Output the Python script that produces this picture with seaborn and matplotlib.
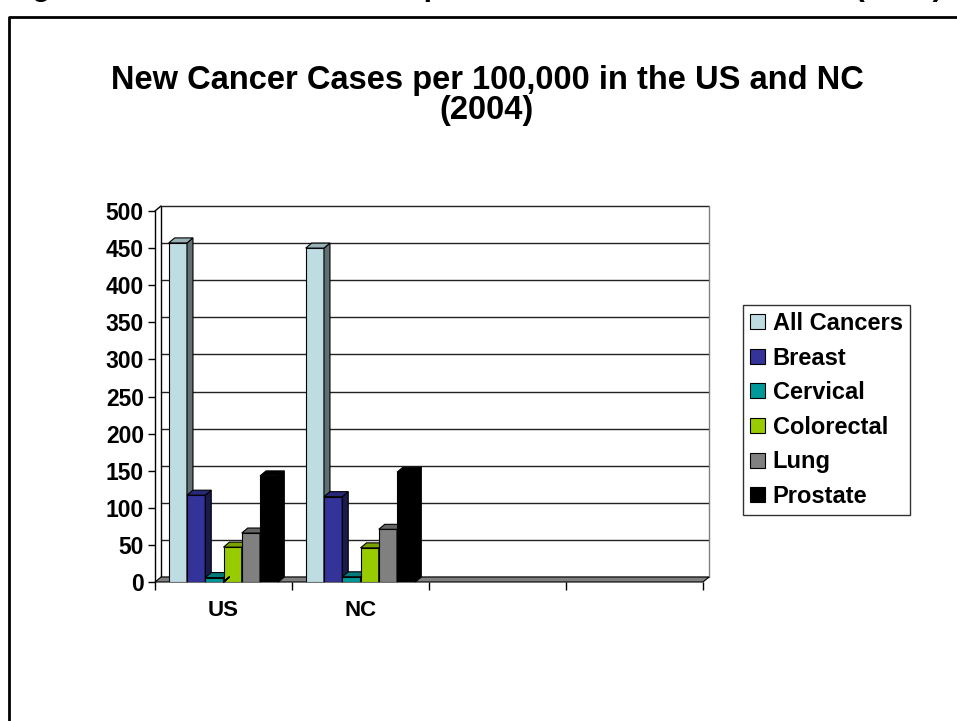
import matplotlib
matplotlib.use("Agg")
import matplotlib.pyplot as plt
import matplotlib.colors as mcolors
from matplotlib.patches import Polygon
from matplotlib.lines import Line2D
import numpy as np
import pandas as pd
import seaborn as sns

regions = ["US", "NC"]
cancer_types = ["All Cancers", "Breast", "Cervical", "Colorectal", "Lung", "Prostate"]
us_rates = [457, 117, 6, 47, 66, 143]
nc_rates = [450, 115, 7, 46, 71, 148]
bar_colors = ["#BEDDE3", "#333399", "#009999", "#99CC00", "#808080", "#000000"]
yticks = list(range(0, 501, 50))

header = "Figure 2: New Cancer Cases per 100,000 in the US and NC (2004)"
title = "New Cancer Cases per 100,000 in the US and NC\n(2004)"

W, H = 957, 721
sns.set_style("white")
plt.rcParams["font.family"] = ["Liberation Sans", "DejaVu Sans"]
plt.rcParams["font.weight"] = "bold"
plt.rcParams["text.color"] = "black"
plt.rcParams["axes.labelcolor"] = "black"
plt.rcParams["xtick.color"] = "black"
plt.rcParams["ytick.color"] = "black"

fig = plt.figure(figsize=(W / 100, H / 100), dpi=100)
fig.patch.set_facecolor("white")
ax = fig.add_axes([155 / W, 1 - 582 / H, 548 / W, 371 / H])
ax.set_facecolor("none")

# long table for seaborn
rows = []
for region, vals in zip(regions, [us_rates, nc_rates]):
    for ctype, v in zip(cancer_types, vals):
        rows.append({"region": region, "type": ctype, "rate": v})
df = pd.DataFrame(rows)

sns.barplot(data=df, x="region", y="rate", hue="type", order=regions,
            hue_order=cancer_types, palette=bar_colors, saturation=1,
            width=0.8, errorbar=None, edgecolor="black", linewidth=0.8, ax=ax)

ax.set_xlim(-0.5, 3.5)
ax.set_ylim(0, 500)

# depth of the fake 3d look (6 px right, 5 px up)
dx = 6 / (548 / 4)
dy = 5 / (371 / 500)

# back wall with gridlines
for v in yticks:
    ax.plot([-0.5 + dx, 3.5 + dx], [v + dy, v + dy], color="#222222", lw=1,
            zorder=0.5, clip_on=False)
ax.plot([-0.5 + dx, -0.5 + dx], [dy, 500 + dy], color="black", lw=1, zorder=0.5, clip_on=False)
ax.plot([3.5 + dx, 3.5 + dx], [dy, 500 + dy], color="#808080", lw=1, zorder=0.5, clip_on=False)
ax.plot([-0.5, -0.5 + dx], [500, 500 + dy], color="black", lw=1, zorder=0.5, clip_on=False)

# floor
floor = Polygon([(-0.5, 0), (3.5, 0), (3.5 + dx, dy), (-0.5 + dx, dy)], closed=True,
                fc="#808080", ec="black", lw=0.8, zorder=1, clip_on=False)
ax.add_patch(floor)

# side and top faces for each bar
bars = [p for p in ax.patches if p is not floor and np.isfinite(p.get_height())]
bars = sorted(bars, key=lambda p: p.get_x())
for i, p in enumerate(bars):
    x0, w, h = p.get_x(), p.get_width(), p.get_height()
    c = np.array(mcolors.to_rgb(p.get_facecolor()))
    z = 3 + i
    p.set_zorder(z)
    side = Polygon([(x0 + w, 0), (x0 + w + dx, dy), (x0 + w + dx, h + dy), (x0 + w, h)],
                   closed=True, fc=c * 0.5, ec="black", lw=0.8, zorder=z + 0.5, clip_on=False)
    top = Polygon([(x0, h), (x0 + w, h), (x0 + w + dx, h + dy), (x0 + dx, h + dy)],
                  closed=True, fc=c * 0.8, ec="black", lw=0.8, zorder=z + 0.5, clip_on=False)
    ax.add_patch(side)
    ax.add_patch(top)

for s in ["top", "right", "bottom"]:
    ax.spines[s].set_visible(False)
ax.spines["left"].set_color("black")
ax.spines["left"].set_linewidth(1)
ax.spines["left"].set_zorder(2)

ax.set_yticks(yticks)
ax.tick_params(axis="y", left=True, direction="out", length=5, width=1, pad=3,
               labelsize=16.5, color="black", labelcolor="black")
plt.setp(ax.get_yticklabels(), fontweight="bold")

ax.set_xticks([-0.5, 0.5, 1.5, 2.5, 3.5], labels=[""] * 5)
ax.set_xticks([0, 1], labels=regions, minor=True)
ax.tick_params(axis="x", which="major", bottom=True, direction="out", length=6, width=1, color="black")
ax.tick_params(axis="x", which="minor", bottom=True, length=0, pad=13, labelsize=16, labelcolor="black")
plt.setp(ax.get_xticklabels(minor=True), fontweight="bold")
ax.set_xlabel("")
ax.set_ylabel("")

sns.move_legend(ax, "upper left", bbox_to_anchor=(743 / W, 1 - 305 / H),
                bbox_transform=fig.transFigure, title=None, frameon=True, fontsize=17,
                handlelength=0.65, handleheight=0.6, handletextpad=0.3, labelspacing=0.49,
                borderpad=0.3, borderaxespad=0, fancybox=False, edgecolor="black")
leg = ax.get_legend()
leg.get_frame().set_linewidth(1)
leg.set_zorder(20)
plt.setp(leg.get_texts(), fontweight="bold", color="black")

fig.text(487 / W, 1 - 65 / H, title, ha="center", va="top", fontsize=23.5,
         fontweight="bold", linespacing=0.95, color="black")
fig.text(5 / W, 1 + 5 / H, header, ha="left", va="baseline", fontsize=22,
         fontweight="bold", color="black")

# page border
fig.add_artist(Line2D([8.5 / W, 8.5 / W, 1.01], [-0.01, 1 - 16.5 / H, 1 - 16.5 / H],
                      transform=fig.transFigure, color="black", lw=2))

fig.savefig("out.png", dpi=100)
